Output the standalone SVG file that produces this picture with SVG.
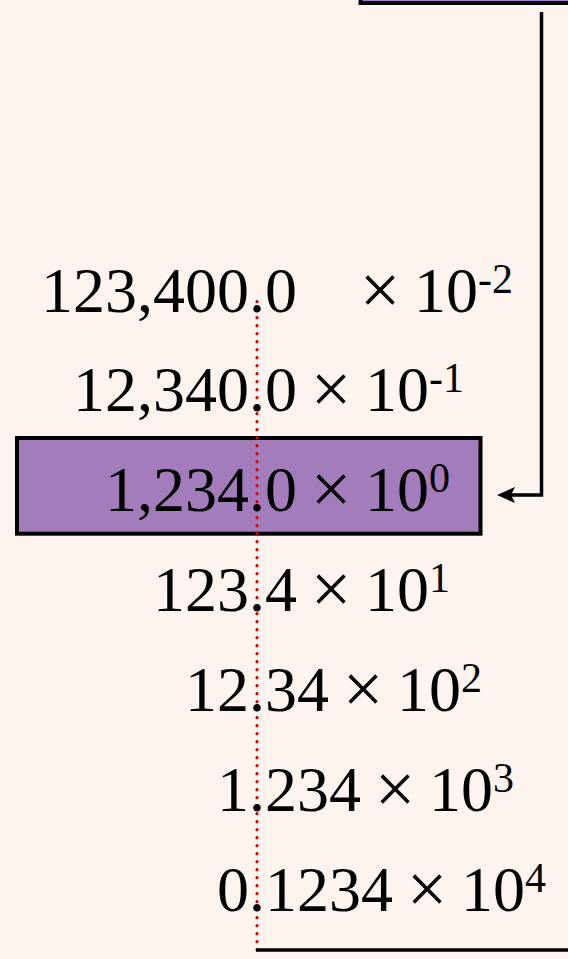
<svg xmlns="http://www.w3.org/2000/svg" width="568" height="959" viewBox="0 0 568 959">
<style>
  .num { font-family: "Liberation Serif", "Times New Roman", serif; font-size: 64px; fill: #000; }
  .times { font-size: 72px; }
  .sup { font-size: 42px; }
  .box { stroke: #000; stroke-width: 4; }
  .wire { fill: none; stroke: #000; stroke-width: 3.5; }
  .head { fill: #000; }
  .guide { fill: none; stroke: #D00000; stroke-width: 3.2; stroke-dasharray: 0 8; stroke-linecap: round; }
</style>
<rect x="0" y="0" width="568" height="959" fill="#FEF4EF"/>

<g id="top-box">
  <rect class="box" x="360.5" y="-100" width="300" height="103" fill="#A87CD2"/>
</g>

<g id="highlight-box">
  <rect class="box" x="17" y="438" width="463.5" height="95.7" fill="#A37CBC"/>
</g>

<g id="connectors">
  <line class="guide" x1="257" y1="301.7" x2="257" y2="950"/>
  <path class="wire" d="M541.5,12 L541.5,495 L510,495"/>
  <path class="head" d="M497,495 L515,487 L511,495 L515,503 Z"/>
  <line class="wire" x1="256" y1="950" x2="568" y2="950"/>
</g>

<g id="row-1">
  <text class="num" y="312"><tspan x="41">123,400.0</tspan><tspan class="times" x="359.7" y="314">×</tspan><tspan x="414" y="312">10</tspan><tspan class="sup" dy="-19">-2</tspan></text>
</g>
<g id="row-2">
  <text class="num" y="411"><tspan x="73">12,340.0</tspan><tspan class="times" x="310.7" y="413">×</tspan><tspan x="365" y="411">10</tspan><tspan class="sup" dy="-19">-1</tspan></text>
</g>
<g id="row-3">
  <text class="num" y="511"><tspan x="105">1,234.0</tspan><tspan class="times" x="310.7" y="513">×</tspan><tspan x="365" y="511">10</tspan><tspan class="sup" dy="-19">0</tspan></text>
</g>
<g id="row-4">
  <text class="num" y="611"><tspan x="153">123.4</tspan><tspan class="times" x="310.7" y="613">×</tspan><tspan x="365" y="611">10</tspan><tspan class="sup" dy="-19">1</tspan></text>
</g>
<g id="row-5">
  <text class="num" y="711"><tspan x="185">12.34</tspan><tspan class="times" x="342.7" y="713">×</tspan><tspan x="397" y="711">10</tspan><tspan class="sup" dy="-19">2</tspan></text>
</g>
<g id="row-6">
  <text class="num" y="811"><tspan x="217">1.234</tspan><tspan class="times" x="374.7" y="813">×</tspan><tspan x="429" y="811">10</tspan><tspan class="sup" dy="-19">3</tspan></text>
</g>
<g id="row-7">
  <text class="num" y="911"><tspan x="217">0.1234</tspan><tspan class="times" x="406.7" y="913">×</tspan><tspan x="461" y="911">10</tspan><tspan class="sup" dy="-19">4</tspan></text>
</g>
</svg>
